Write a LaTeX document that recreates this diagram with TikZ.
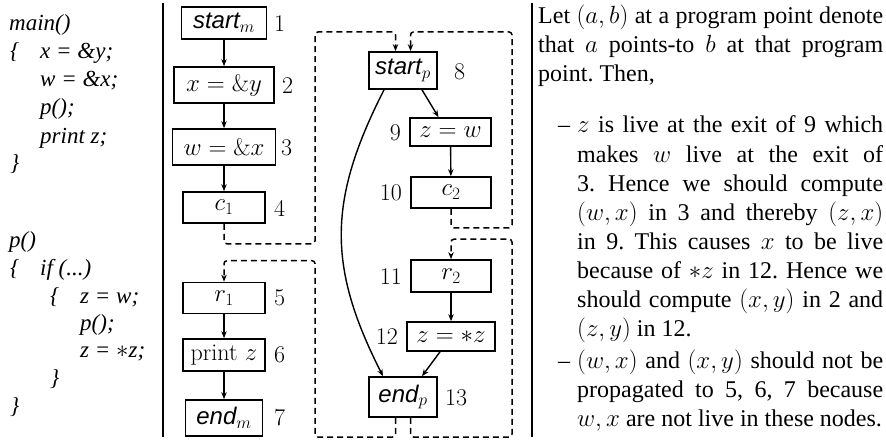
\documentclass[tikz,border=0pt]{standalone}
\usepackage{fontspec}
\newfontfamily\tms{Liberation Serif}
\newfontfamily\hlv{Liberation Sans}
\usetikzlibrary{arrows.meta,calc}
\frenchspacing
\tikzset{
  gfont/.style={font=\fontsize{24}{29}\selectfont},
  box/.style={draw, line width=1.7pt, inner sep=0pt, gfont},
  lbl/.style={inner sep=0pt, gfont},
  arr/.style={line width=1.4pt, -{Stealth[length=7pt,width=5.5pt]}},
  dsh/.style={line width=1.5pt, dash pattern=on 6pt off 4pt, rounded corners=3pt},
  dsharr/.style={dsh, -{Stealth[length=7pt,width=5.5pt]}},
  code/.style={anchor=base west, inner sep=0pt, font=\fontsize{23}{28}\selectfont},
  txt/.style={anchor=base west, inner sep=0pt, font=\fontsize{24}{29}\selectfont\tms},
  bar/.style={line width=2pt},
}
\newcommand{\hv}[1]{{\hlv\itshape #1}}
\newcommand{\cd}[1]{{\tms\itshape #1}}
\begin{document}
\begin{tikzpicture}[x=1pt,y=-1pt]
\useasboundingbox (0,0) rectangle (886,441);
% separators
\draw[bar] (163,3) -- (163,437);
\draw[bar] (532,3) -- (532,437);

% code
\node[code] (m0) at (9,31) {\cd{main()}};
\node[code] (m1b) at (10,59) {\cd{\{}};
\node[code] (m1) at (40,59) {\cd{x = \&y;}};
\node[code] (m2) at (40,87) {\cd{w = \&x;}};
\node[code] (m3) at (40,115) {\cd{p();}};
\node[code] (m4) at (40,143) {\cd{print z;}};
\node[code] (m5) at (10,171) {\cd{\}}};
\node[code] (p0) at (9,247) {\cd{p()}};
\node[code] (p1b) at (10,275) {\cd{\{}};
\node[code] (p1) at (40,275) {\cd{if (...)}};
\node[code] (p2b) at (50,303) {\cd{\{}};
\node[code] (p2) at (80,303) {\cd{z = w;}};
\node[code] (p3) at (80,330) {\cd{p();}};
\node[code] (p4) at (80,357) {\cd{z = $\ast$z;}};
\node[code] (p5) at (50,385) {\cd{\}}};
\node[code] (p6) at (10,413) {\cd{\}}};

% main graph
\node[box, minimum width=85pt, minimum height=32pt] (startm) at (224,23) {\hv{start}$_m$};
\node[box, minimum width=100pt, minimum height=36pt] (xy) at (224,85) {$x=\&y$};
\node[box, minimum width=103pt, minimum height=36pt] (wx) at (224,147) {$w=\&x$};
\node[box, minimum width=82pt, minimum height=31pt] (c1) at (224,207.5) {$c_1$};
\node[box, minimum width=82pt, minimum height=31pt] (r1) at (224,298) {$r_1$};
\node[box, minimum width=82pt, minimum height=32pt] (pz) at (224,355) {print $z$};
\node[box, minimum width=77pt, minimum height=36pt] (endm) at (224,418) {\hv{end}$_m$};

\node[lbl, anchor=west] (l1) at (274,24) {1};
\node[lbl, anchor=west] (l2) at (282,86) {2};
\node[lbl, anchor=west] (l3) at (281,148) {3};
\node[lbl, anchor=west] (l4) at (274,208) {4};
\node[lbl, anchor=west] (l5) at (274,298) {5};
\node[lbl, anchor=west] (l6) at (274,355) {6};
\node[lbl, anchor=west] (l7) at (274,418) {7};

\draw[arr] (startm) -- (xy);
\draw[arr] (xy) -- (wx);
\draw[arr] (wx) -- (c1);
\draw[arr] (r1) -- (pz);
\draw[arr] (pz) -- (endm);

% procedure p graph
\node[box, minimum width=68pt, minimum height=37pt] (startp) at (403,70.5) {\hv{start}$_p$};
\node[box, minimum width=81pt, minimum height=28pt] (zw) at (450.5,132) {$z=w$};
\node[box, minimum width=80pt, minimum height=31pt] (c2) at (451,192.5) {$c_2$};
\node[box, minimum width=80pt, minimum height=32pt] (r2) at (451,276) {$r_2$};
\node[box, minimum width=88pt, minimum height=29pt] (zsz) at (451,336.5) {$z=*z$};
\node[box, minimum width=68pt, minimum height=40pt] (endp) at (403,397) {\hv{end}$_p$};

\node[lbl, anchor=west] (l8) at (454,72) {8};
\node[lbl, anchor=east] (l9) at (401,133) {9};
\node[lbl, anchor=east] (l10) at (402,193) {10};
\node[lbl, anchor=east] (l11) at (402,277) {11};
\node[lbl, anchor=east] (l12) at (398,337) {12};
\node[lbl, anchor=west] (l13) at (445,398) {13};

\draw[arr] ($(startp.south)+(19,0)$) -- ($(zw.north)+(-12,0)$);
\draw[arr] (zw) -- (c2);
\draw[arr] (r2) -- (zsz);
\draw[arr] ($(zsz.south)+(-11,0)$) -- ($(endp.north)+(19,0)$);
\draw[arr] ($(startp.south)+(-19,0)$) .. controls +(-56,110) and +(-56,-110) .. ($(endp.north)+(-20,0)$);

% call / return edges
\coordinate (Lx) at (315,0);
\coordinate (Rx) at (512,0);
\coordinate (topY) at (0,32);
\coordinate (botY) at (0,437);
\coordinate (sp1) at ($(startp.north)+(-7.5,0)$);
\coordinate (sp2) at ($(startp.north)+(7.5,0)$);
\coordinate (ep1) at ($(endp.south)+(-7.5,0)$);
\coordinate (ep2) at ($(endp.south)+(7.5,0)$);
\coordinate (a1) at ($(c1.south)+(0,20)$);
\coordinate (a2) at ($(c2.south)+(0,19)$);
\coordinate (r1in) at ($(r1.north)+(0,-21)$);
\coordinate (r2in) at ($(r2.north)+(0,-20)$);

\draw[dsharr] (c1.south) -- (a1) -- (a1 -| Lx) -- (Lx |- topY) -- (topY -| sp1) -- (sp1);
\draw[dsharr] (c2.south) -- (a2) -- (a2 -| Rx) -- (Rx |- topY) -- (topY -| sp2) -- (sp2);
\draw[dsharr] (ep1) -- (ep1 |- botY) -- (Lx |- botY) -- (Lx |- r1in) -- (r1in) -- (r1.north);
\draw[dsharr] (ep2) -- (ep2 |- botY) -- (Rx |- botY) -- (Rx |- r2in) -- (r2in) -- (r2.north);

% explanation text
\node[txt] (t1) at (538,24) {\makebox[345pt][s]{Let $(a,b)$ at a program point denote}};
\node[txt] (t2) at (538,53) {\makebox[345pt][s]{that $a$ points-to $b$ at that program}};
\node[txt] (t3) at (538,82) {point. Then,};
\node[txt] (d1) at (558,133) {–};
\node[txt] (t4) at (577,133) {\makebox[306pt][s]{$z$ is live at the exit of 9 which}};
\node[txt] (t5) at (577,162) {\makebox[306pt][s]{makes $w$ live at the exit of}};
\node[txt] (t6) at (577,191) {\makebox[306pt][s]{3. Hence we should compute}};
\node[txt] (t7) at (577,220) {\makebox[306pt][s]{$(w,x)$ in 3 and thereby $(z,x)$}};
\node[txt] (t8) at (577,249) {\makebox[306pt][s]{in 9. This causes $x$ to be live}};
\node[txt] (t9) at (577,278) {\makebox[306pt][s]{because of $*z$ in 12. Hence we}};
\node[txt] (t10) at (577,307) {\makebox[306pt][s]{should compute $(x,y)$ in 2 and}};
\node[txt] (t11) at (577,336) {$(z,y)$ in 12.};
\node[txt] (d2) at (558,368) {–};
\node[txt] (t12) at (577,368) {\makebox[306pt][s]{$(w,x)$ and $(x,y)$ should not be}};
\node[txt] (t13) at (577,397) {\makebox[306pt][s]{propagated to 5, 6, 7 because}};
\node[txt] (t14) at (577,426) {$w,x$ are not live in these nodes.};
\end{tikzpicture}
\end{document}
